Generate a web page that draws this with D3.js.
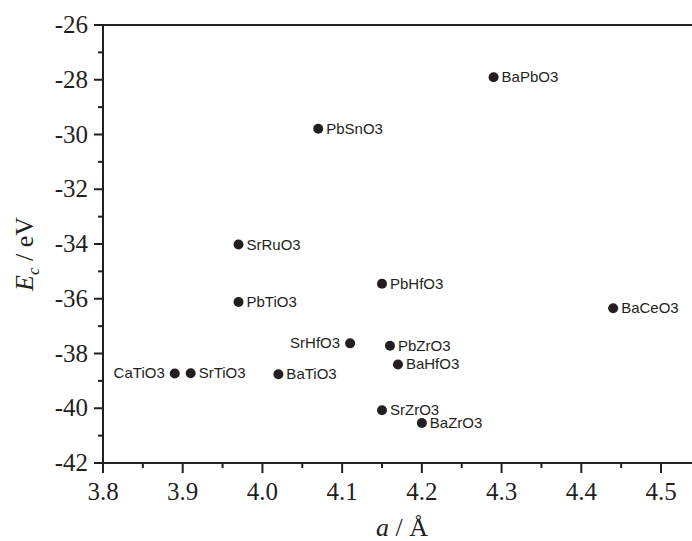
<!DOCTYPE html>
<html>
<head>
<meta charset="utf-8">
<script src="https://cdn.jsdelivr.net/npm/d3@7"></script>
<style>
    body { margin: 0; background: #fff; }
    svg { display: block; }
</style>
</head>
<body>
<div id="my_dataviz"></div>
<script>
// compounds, lattice constant a (Å) and cohesive energy Ec (eV)
const compounds = ["BaPbO3", "PbSnO3", "SrRuO3", "PbHfO3", "PbTiO3", "BaCeO3", "SrHfO3", "PbZrO3", "BaHfO3", "CaTiO3", "SrTiO3", "BaTiO3", "SrZrO3", "BaZrO3"];
const latticeA = [4.29, 4.07, 3.97, 4.15, 3.97, 4.44, 4.11, 4.16, 4.17, 3.89, 3.91, 4.02, 4.15, 4.20];
const energyEc = [-27.91, -29.79, -34.02, -35.45, -36.12, -36.35, -37.63, -37.72, -38.40, -38.73, -38.72, -38.76, -40.07, -40.54];
// labels drawn on the left of their dot
const leftLabels = ["CaTiO3", "SrHfO3"];

const xTicks = [3.8, 3.9, 4.0, 4.1, 4.2, 4.3, 4.4, 4.5];
const yTicks = [-42, -40, -38, -36, -34, -32, -30, -28, -26];

function drawChart() {

    const width = 692;
    const height = 541;
    const left = 103;
    const top = 25;
    const bottom = 463;
    const ink = "#231f20";
    const serif = "'Liberation Serif', 'Times New Roman', serif";
    const sans = "'Liberation Sans', Arial, sans-serif";

    const svg = d3.select('#my_dataviz')
        .append('svg')
        .attr('width', width)
        .attr('height', height);

    const xScale = d3.scaleLinear()
        .domain([3.8, 4.5])
        .range([left, left + 558]);

    const yScale = d3.scaleLinear()
        .domain([-42, -26])
        .range([bottom, top]);

    // top frame line
    svg.append('line')
        .attr('x1', left)
        .attr('x2', width + 5)
        .attr('y1', top)
        .attr('y2', top)
        .attr('stroke', ink)
        .attr('stroke-width', 2);

    // x axis: major ticks + minor ticks
    const xMinor = d3.range(3.85, 4.56, 0.1);
    const xAxis = svg.append('g')
        .attr('transform', `translate(0,${bottom})`);
    xAxis.append('line')
        .attr('x1', left - 1)
        .attr('x2', width + 5)
        .attr('stroke', ink)
        .attr('stroke-width', 2);
    xAxis.selectAll('.major')
        .data(xTicks)
        .enter()
        .append('line')
        .attr('x1', d => xScale(d))
        .attr('x2', d => xScale(d))
        .attr('y1', 0)
        .attr('y2', 10)
        .attr('stroke', ink)
        .attr('stroke-width', 2);
    xAxis.selectAll('.minor')
        .data(xMinor)
        .enter()
        .append('line')
        .attr('x1', d => xScale(d))
        .attr('x2', d => xScale(d))
        .attr('y1', 0)
        .attr('y2', 5)
        .attr('stroke', ink)
        .attr('stroke-width', 2);
    xAxis.selectAll('text')
        .data(xTicks)
        .enter()
        .append('text')
        .attr('x', d => xScale(d))
        .attr('y', 37)
        .attr('text-anchor', 'middle')
        .style('font-family', serif)
        .style('font-size', '25px')
        .attr('fill', ink)
        .text(d => d.toFixed(1));

    // y axis
    const yMinor = d3.range(-41, -26, 2);
    const yAxis = svg.append('g')
        .attr('transform', `translate(${left},0)`);
    yAxis.append('line')
        .attr('y1', top - 1)
        .attr('y2', bottom + 10)
        .attr('stroke', ink)
        .attr('stroke-width', 2);
    yAxis.selectAll('.major')
        .data(yTicks)
        .enter()
        .append('line')
        .attr('x1', -9)
        .attr('x2', 0)
        .attr('y1', d => yScale(d))
        .attr('y2', d => yScale(d))
        .attr('stroke', ink)
        .attr('stroke-width', 2);
    yAxis.selectAll('.minor')
        .data(yMinor)
        .enter()
        .append('line')
        .attr('x1', -5)
        .attr('x2', 0)
        .attr('y1', d => yScale(d))
        .attr('y2', d => yScale(d))
        .attr('stroke', ink)
        .attr('stroke-width', 2);
    yAxis.selectAll('text')
        .data(yTicks)
        .enter()
        .append('text')
        .attr('x', -15)
        .attr('y', d => yScale(d) + 8)
        .attr('text-anchor', 'end')
        .style('font-family', serif)
        .style('font-size', '25px')
        .attr('fill', ink)
        .text(d => d);

    // axis titles
    const xTitle = svg.append('text')
        .attr('x', 402)
        .attr('y', 536)
        .attr('text-anchor', 'middle')
        .style('font-family', serif)
        .style('font-size', '26px')
        .attr('fill', ink);
    xTitle.append('tspan').style('font-style', 'italic').text('a');
    xTitle.append('tspan').text(' / Å');

    const yTitle = svg.append('text')
        .attr('transform', 'translate(33,254) rotate(-90)')
        .attr('text-anchor', 'middle')
        .style('font-family', serif)
        .style('font-size', '26px')
        .attr('fill', ink);
    yTitle.append('tspan').style('font-style', 'italic').text('E');
    yTitle.append('tspan').style('font-style', 'italic')
        .style('font-size', '17px').attr('dy', 6).text('c');
    yTitle.append('tspan').attr('dy', -6).text(' / eV');

    // points
    const points = compounds.map((name, i) => ({
        name,
        a: latticeA[i],
        ec: energyEc[i],
        left: leftLabels.includes(name)
    }));

    const groups = svg.selectAll('.pt')
        .data(points)
        .enter()
        .append('g')
        .attr('class', 'pt')
        .attr('transform', d => `translate(${xScale(d.a)},${yScale(d.ec)})`);

    groups.append('circle')
        .attr('r', 5)
        .attr('fill', ink);

    groups.append('text')
        .attr('x', d => d.left ? -10 : 8)
        .attr('y', 5)
        .attr('text-anchor', d => d.left ? 'end' : 'start')
        .style('font-family', sans)
        .style('font-size', '15px')
        .attr('fill', ink)
        .text(d => d.name);
}

drawChart()
</script>
</body>
</html>
